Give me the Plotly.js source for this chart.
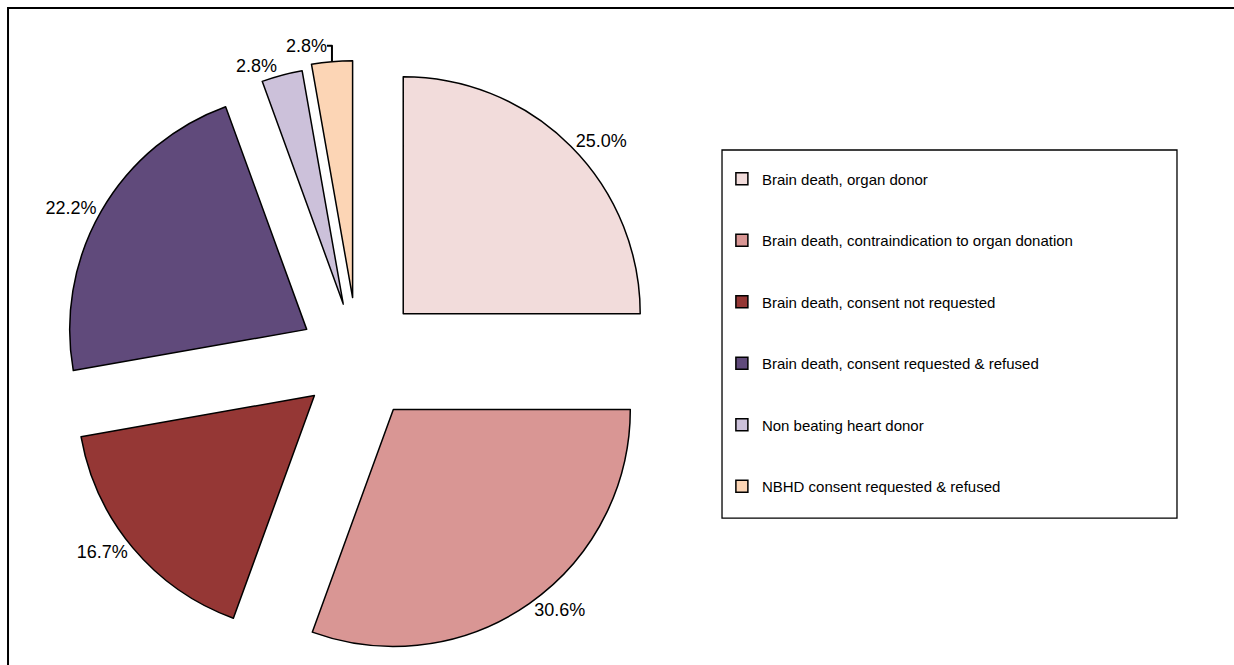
<!DOCTYPE html>
<html>
<head>
<meta charset="utf-8">
<script src="https://cdn.plot.ly/plotly-3.0.1.min.js"></script>
<style>
  body { margin: 0; background: #fff; }
  #plot { width: 1234px; height: 665px; }
</style>
</head>
<body>
<div id="plot"></div>
<script>
// outcome categories (legend order = slice order, clockwise from 12 o'clock)
var categories = [
    "Brain death, organ donor",
    "Brain death, contraindication to organ donation",
    "Brain death, consent not requested",
    "Brain death, consent requested & refused",
    "Non beating heart donor",
    "NBHD consent requested & refused"
];

// number of patients per outcome (36 in total)
var counts = [9, 11, 6, 8, 1, 1];

var sliceColors = ["#F2DCDB", "#D99694", "#953735", "#604A7B", "#CCC1DA", "#FCD5B5"];

// pad legend entries with empty lines so the rows are spaced out like the original
var legendLabels = categories.map(c => "<br>" + c + "<br> ");

var trace1 = {
    type: "pie",
    labels: legendLabels,
    values: counts,
    sort: false,
    direction: "clockwise",
    rotation: 0,
    pull: [0.27, 0.26, 0.24, 0.25, 0.24, 0.26],
    marker: {
        colors: sliceColors,
        line: {color: "#000000", width: 1.5}
    },
    texttemplate: "%{percent:.1%}",
    textposition: "outside",
    outsidetextfont: {family: "Liberation Sans, Arial, sans-serif", size: 18, color: "#000000"},
    hoverinfo: "label+percent",
    domain: {x: [0.0462, 0.534], y: [0.0075, 0.9128]}
};

var layout = {
    width: 1234,
    height: 665,
    margin: {l: 0, r: 0, t: 0, b: 0},
    paper_bgcolor: "#ffffff",
    showlegend: true,
    legend: {
        x: 0.585,
        y: 0.785,
        xanchor: "left",
        yanchor: "top",
        bgcolor: "rgba(0,0,0,0)",
        borderwidth: 0,
        font: {family: "Liberation Sans, Arial, sans-serif", size: 15, color: "#000000"}
    },
    shapes: [
        // outer chart frame
        {type: "rect", xref: "paper", yref: "paper", x0: 0.0065, x1: 1.02, y0: -0.02, y1: 0.988,
         line: {color: "#000000", width: 2}},
        // legend frame
        {type: "rect", xref: "paper", yref: "paper", x0: 0.5851, x1: 0.9538, y0: 0.221, y1: 0.7744,
         line: {color: "#000000", width: 1.3}}
    ]
};

Plotly.newPlot("plot", [trace1], layout, {displayModeBar: false});
</script>
</body>
</html>
